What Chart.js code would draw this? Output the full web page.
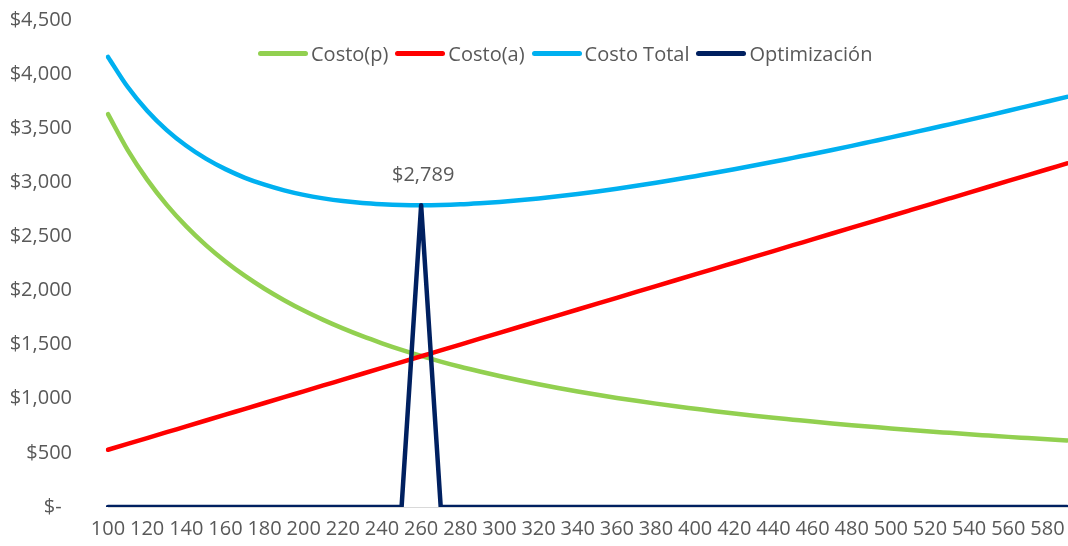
<!DOCTYPE html>
<html>
<head>
<meta charset="utf-8">
<script src="https://cdn.jsdelivr.net/npm/chart.js@4.4.1/dist/chart.umd.min.js"></script>
<style>
  body { margin: 0; background: #fff; }
  #wrap { position: relative; width: 1068px; height: 546px; }
  #legend {
    position: absolute; left: 258px; top: 40px; height: 26px;
    display: flex; align-items: center;
    font: 20px "Open Sans", sans-serif; color: #595959;
  }
  .item { display: flex; align-items: center; margin-right: 7px; }
  .sw { width: 50px; height: 5px; border-radius: 3px; margin-right: 3px; }
</style>
</head>
<body>
<div id="wrap">
  <canvas id="chart"></canvas>
  <div id="legend"></div>
</div>
<script>
// valores (x = 100..590, paso 10)
const cantidades = [100, 110, 120, 130, 140, 150, 160, 170, 180, 190,
  200, 210, 220, 230, 240, 250, 260, 270, 280, 290,
  300, 310, 320, 330, 340, 350, 360, 370, 380, 390,
  400, 410, 420, 430, 440, 450, 460, 470, 480, 490,
  500, 510, 520, 530, 540, 550, 560, 570, 580, 590];

const costoP = [3630, 3300, 3025, 2792, 2593, 2420, 2269, 2135, 2017, 1911,
  1815, 1729, 1650, 1578, 1513, 1452, 1396, 1344, 1296, 1252,
  1210, 1171, 1134, 1100, 1068, 1037, 1008, 981, 955, 931,
  908, 885, 864, 844, 825, 807, 789, 772, 756, 741,
  726, 712, 698, 685, 672, 660, 648, 637, 626, 615];

const costoA = [529, 583, 637, 691, 745, 799, 853, 907, 961, 1015,
  1069, 1123, 1177, 1231, 1285, 1339, 1393, 1447, 1501, 1555,
  1609, 1663, 1717, 1771, 1825, 1879, 1933, 1987, 2041, 2095,
  2149, 2203, 2257, 2311, 2365, 2419, 2473, 2527, 2581, 2635,
  2689, 2743, 2797, 2851, 2905, 2959, 3013, 3067, 3121, 3175];

const costoTotal = [4159, 3883, 3662, 3483, 3338, 3219, 3122, 3042, 2978, 2926,
  2884, 2852, 2827, 2809, 2798, 2791, 2789, 2791, 2797, 2807,
  2819, 2834, 2851, 2871, 2893, 2916, 2941, 2968, 2996, 3026,
  3057, 3088, 3121, 3155, 3190, 3226, 3262, 3299, 3337, 3376,
  3415, 3455, 3495, 3536, 3577, 3619, 3661, 3704, 3747, 3790];

const optimizacion = [0, 0, 0, 0, 0, 0, 0, 0, 0, 0,
  0, 0, 0, 0, 0, 0, 2789, 0, 0, 0,
  0, 0, 0, 0, 0, 0, 0, 0, 0, 0,
  0, 0, 0, 0, 0, 0, 0, 0, 0, 0,
  0, 0, 0, 0, 0, 0, 0, 0, 0, 0];

const yTicks = [0, 500, 1000, 1500, 2000, 2500, 3000, 3500, 4000, 4500];

const GRIS = "#595959";
const fmt = (v) => v === 0 ? "$-  " : "$" + v.toLocaleString("en-US");

Chart.defaults.font.family = "'Open Sans', sans-serif";
Chart.defaults.font.size = 20;
Chart.defaults.color = GRIS;

function serie(label, data, color, order, smooth) {
  return {
    label, data, order,
    borderColor: color, backgroundColor: color,
    borderWidth: 4.5, pointRadius: 0,
    borderCapStyle: "round", borderJoinStyle: "round",
    tension: smooth ? 0.4 : 0,
    cubicInterpolationMode: smooth ? "monotone" : "default",
  };
}

// etiqueta del óptimo sobre el Costo Total
const etiquetaOptimo = {
  id: "etiquetaOptimo",
  afterDatasetsDraw(chart) {
    const i = optimizacion.findIndex((v) => v > 0);
    if (i < 0) return;
    const ctx = chart.ctx;
    const x = chart.scales.x.getPixelForValue(i);
    const y = chart.scales.y.getPixelForValue(costoTotal[i]);
    ctx.save();
    ctx.font = "20px 'Open Sans', sans-serif";
    ctx.fillStyle = GRIS;
    ctx.textAlign = "center";
    ctx.textBaseline = "middle";
    ctx.fillText(fmt(costoTotal[i]), x + 2, y - 30);
    ctx.restore();
  },
};

const datasets = [
  serie("Costo(p)", costoP, "#92D050", 2, true),
  serie("Costo(a)", costoA, "#FF0000", 1, true),
  serie("Costo Total", costoTotal, "#00B0F0", 3, true),
  serie("Optimización", optimizacion, "#002060", 0, false),
];

new Chart(document.getElementById("chart"), {
  type: "line",
  data: { labels: cantidades, datasets },
  options: {
    responsive: true,
    maintainAspectRatio: false,
    animation: false,
    layout: { padding: { top: 20, right: 1, bottom: 0, left: 0 } },
    plugins: { legend: { display: false }, tooltip: { enabled: false } },
    scales: {
      x: {
        offset: false,
        grid: { display: false, drawTicks: false },
        border: { color: "#d9d9d9", width: 1 },
        afterFit: (s) => { s.height = 39; s.paddingLeft = 0; s.paddingRight = 0; },
        ticks: {
          autoSkip: false, maxRotation: 0, padding: 10,
          callback: (v, i) => (i % 2 === 0 ? cantidades[i] : ""),
        },
      },
      y: {
        min: 0, max: 4500,
        afterBuildTicks: (s) => { s.ticks = yTicks.map((v) => ({ value: v })); },
        afterFit: (s) => { s.width = 108; s.paddingTop = 0; s.paddingBottom = 0; },
        grid: { display: false, drawTicks: false },
        border: { display: false },
        ticks: { padding: 36, callback: (v) => fmt(v) },
      },
    },
  },
  plugins: [etiquetaOptimo],
});

// leyenda superpuesta
const leyenda = document.getElementById("legend");
for (const d of datasets) {
  const it = document.createElement("div");
  it.className = "item";
  it.innerHTML = `<span class="sw" style="background:${d.borderColor}"></span><span>${d.label}</span>`;
  leyenda.appendChild(it);
}
</script>
</body>
</html>
